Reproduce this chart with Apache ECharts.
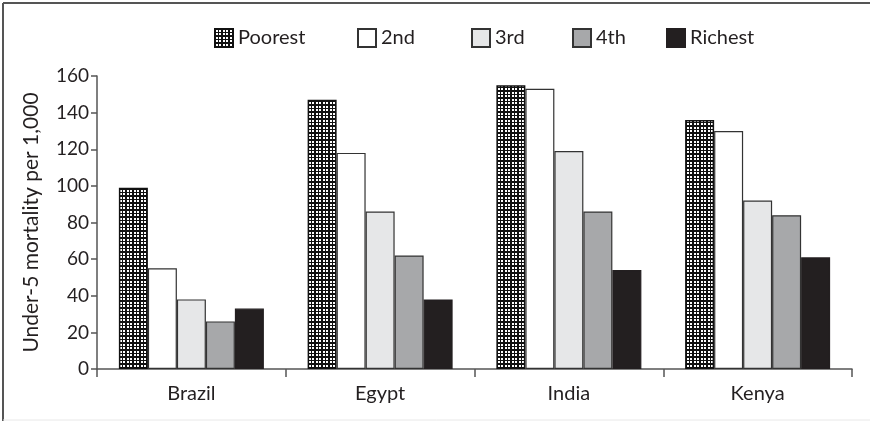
<!DOCTYPE html>
<html>
<head>
<meta charset="utf-8">
<script src="https://cdn.jsdelivr.net/npm/echarts@6/dist/echarts.min.js"></script>
<style>
html,body{margin:0;padding:0;background:#fff;}
#chart{width:870px;height:421px;}
</style>
</head>
<body>
<div id="chart"></div>
<script>
const categories = ['Brazil', 'Egypt', 'India', 'Kenya'];
const seriesNames = ['Poorest', '2nd', '3rd', '4th', 'Richest'];
const poorest = [99, 147, 155, 136];
const second = [55, 118, 153, 130];
const third = [38, 86, 119, 92];
const fourth = [26, 62, 86, 84];
const richest = [33, 38, 54, 61];
const yTicks = [0, 20, 40, 60, 80, 100, 120, 140, 160];
const yAxisTitle = 'Under-5 mortality per 1,000';

function makePattern() {
  const c = document.createElement('canvas');
  c.width = 7; c.height = 7;
  const g = c.getContext('2d');
  g.fillStyle = '#111';
  g.fillRect(0, 0, 7, 7);
  g.fillStyle = '#fff';
  g.fillRect(1, 1, 2, 2);
  g.fillRect(4, 1, 2, 2);
  g.fillRect(1, 4, 2, 2);
  g.fillRect(4, 4, 2, 2);
  return c;
}
const pattern = { image: makePattern(), repeat: 'repeat' };

const fills = [pattern, '#ffffff', '#e6e7e8', '#a7a8aa', '#231f20'];
const borders = ['#111', '#333', '#333', '#333', '#231f20'];
const dataSets = [poorest, second, third, fourth, richest];
const legendLefts = [214, 357, 471, 572, 666];

const FONT = 'Lato';
const chart = echarts.init(document.getElementById('chart'));
chart.setOption({
  animation: false,
  backgroundColor: '#fff',
  textStyle: { fontFamily: FONT },
  legend: seriesNames.map((n, i) => ({
    top: 28,
    left: legendLefts[i],
    padding: 0,
    itemWidth: 18,
    itemHeight: 18,
    itemGap: 0,
    textStyle: { fontSize: 20, color: '#231f20', fontFamily: FONT, padding: [0, 0, 0, 0] },
    data: [{ name: n, icon: 'rect' }]
  })),
  grid: { left: 97, right: 18, top: 76, bottom: 52 },
  xAxis: {
    type: 'category',
    data: categories,
    axisLine: { lineStyle: { color: '#555', width: 1.5 } },
    axisTick: { show: true, length: 8, lineStyle: { color: '#555', width: 1.5 } },
    axisLabel: { fontSize: 20, color: '#231f20', margin: 15, fontFamily: FONT }
  },
  yAxis: {
    type: 'value',
    min: 0, max: 160, interval: 20,
    name: yAxisTitle,
    nameLocation: 'middle',
    nameGap: 55,
    nameTextStyle: { fontSize: 21, color: '#231f20', fontFamily: FONT },
    axisLine: { show: true, lineStyle: { color: '#555', width: 1.5 } },
    axisTick: { show: true, length: 6, lineStyle: { color: '#555', width: 1.5 } },
    splitLine: { show: false },
    axisLabel: { fontSize: 19, color: '#231f20', margin: 8, fontFamily: FONT,
      formatter: v => (yTicks.indexOf(v) >= 0 ? String(v) : '') }
  },
  series: dataSets.map((d, i) => ({
    name: seriesNames[i],
    type: 'bar',
    data: d,
    barWidth: 29,
    barGap: '0%',
    itemStyle: { color: fills[i], borderColor: borders[i], borderWidth: i === 0 ? 1.5 : 1.2 }
  })),
  graphic: [
    { type: 'line', shape: { x1: 3, y1: 3, x2: 870, y2: 3 }, style: { stroke: '#555', lineWidth: 2 } },
    { type: 'line', shape: { x1: 3, y1: 3, x2: 3, y2: 421 }, style: { stroke: '#555', lineWidth: 2 } },
    { type: 'line', shape: { x1: 3, y1: 420, x2: 870, y2: 420 }, style: { stroke: '#e8e8e8', lineWidth: 1 } }
  ]
});
</script>
</body>
</html>
